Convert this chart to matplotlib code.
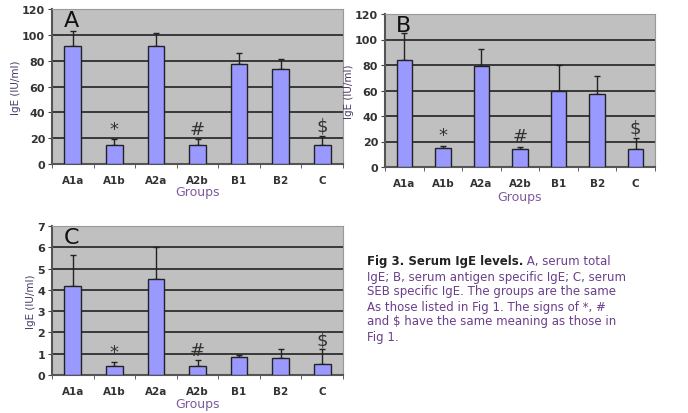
import matplotlib.pyplot as plt
import numpy as np

groups = ['A1a', 'A1b', 'A2a', 'A2b', 'B1', 'B2', 'C']

# panel A: serum total IgE
total_ige = [91, 15, 91, 15, 77.5, 73.5, 15]
total_err = [12, 4.5, 10.5, 4.5, 8.5, 7.5, 7]

# panel B: antigen specific IgE
antigen_ige = [84, 15, 79, 14, 60, 57.5, 14]
antigen_err = [21, 1.8, 13.5, 2, 20, 14, 9]

# panel C: SEB specific IgE
seb_ige = [4.2, 0.4, 4.5, 0.4, 0.85, 0.82, 0.52]
seb_err = [1.45, 0.22, 1.5, 0.3, 0.1, 0.38, 0.68]

signs = {1: '*', 3: '#', 6: '$'}

bar_color = '#9999ff'
bg_color = '#c0c0c0'
label_color = '#4a3a66'
groups_color = '#7d5a9e'
tick_color = '#333333'

fig = plt.figure(figsize=(6.88, 4.14), dpi=100)


def panel(rect, values, errors, ymax, ystep, letter, sign_off, groups_y):
    ax = fig.add_axes(rect)
    x = np.arange(len(groups))
    ax.set_facecolor(bg_color)
    ax.bar(x, values, width=0.4, color=bar_color, edgecolor='#222222',
           linewidth=1.0, zorder=3)
    ax.errorbar(x, values, yerr=[np.zeros(len(values)), errors], fmt='none',
                ecolor='#222222', elinewidth=1.0, capsize=2.5, capthick=1.0,
                zorder=2)
    ax.set_xlim(-0.5, len(groups) - 0.5)
    ax.set_ylim(0, ymax)
    ax.set_yticks(np.arange(0, ymax + ystep / 2, ystep))
    ax.yaxis.grid(True, color='#222222', linewidth=1.2, zorder=1)
    ax.set_axisbelow(True)
    ax.set_xticks(x)
    ax.set_xticklabels(groups)
    ax.set_xticks(np.arange(-0.5, len(groups)), minor=True)
    ax.tick_params(axis='x', which='major', length=0, pad=8)
    ax.tick_params(axis='x', which='minor', length=3, color='#444444')
    ax.tick_params(axis='y', length=3, pad=2, color='#444444')
    for lab in ax.get_xticklabels() + ax.get_yticklabels():
        lab.set_fontsize(7.5)
        lab.set_fontweight('bold')
        lab.set_color(tick_color)
    for lab in ax.get_yticklabels():
        lab.set_fontsize(8)
    for side in ['top', 'right']:
        ax.spines[side].set_color('#999999')
        ax.spines[side].set_linewidth(0.8)
    for side in ['left', 'bottom']:
        ax.spines[side].set_color('#555555')
        ax.spines[side].set_linewidth(1.5)
    ax.set_ylabel('IgE (IU/ml)', fontsize=7.5, color=label_color, labelpad=1)
    ax.text(0.5, groups_y, 'Groups', transform=ax.transAxes, ha='center',
            va='top', fontsize=9, color=groups_color)
    ax.text(0.04, 0.995, letter, transform=ax.transAxes, ha='left', va='top',
            fontsize=16, color='#111111')
    for i, s in signs.items():
        ax.text(i, values[i] + errors[i] + sign_off, s, ha='center',
                va='bottom', fontsize=13, color='#333333')
    return ax


panel([52 / 688, 1 - 165 / 414, 291 / 688, 155 / 414], total_ige, total_err,
      120, 20, 'A', 1, -0.135)
panel([385 / 688, 1 - 168 / 414, 270 / 688, 153 / 414], antigen_ige,
      antigen_err, 120, 20, 'B', 1, -0.15)
panel([52 / 688, 1 - 376 / 414, 291 / 688, 149 / 414], seb_ige, seb_err,
      7, 1, 'C', 0.05, -0.145)

caption_bold = 'Fig 3. Serum IgE levels.'
caption_rest = [
    ' A, serum total',
    'IgE; B, serum antigen specific IgE; C, serum',
    'SEB specific IgE. The groups are the same',
    'As those listed in Fig 1. The signs of *, #',
    'and $ have the same meaning as those in',
    'Fig 1.',
]
cx, cy, dy = 367 / 688, 1 - 262 / 414, 15 / 414
t = fig.text(cx, cy, caption_bold, fontsize=8.5, fontweight='bold',
             color='#222222', va='center', ha='left')
fig.canvas.draw()
bb = t.get_window_extent()
fig.text(bb.x1 / fig.bbox.width, cy, caption_rest[0], fontsize=8.5,
         color='#6a3f8a', va='center', ha='left')
for k, line in enumerate(caption_rest[1:], start=1):
    fig.text(cx, cy - k * dy, line, fontsize=8.5, color='#6a3f8a',
             va='center', ha='left')

fig.savefig('out.png', dpi=100)
